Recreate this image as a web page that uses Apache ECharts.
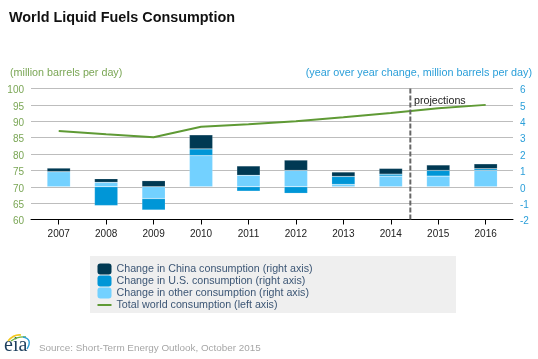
<!DOCTYPE html>
<html><head><meta charset="utf-8">
<style>html,body{margin:0;padding:0;background:#fff}#c{width:538px;height:359px}</style>
<script src="https://cdn.jsdelivr.net/npm/echarts@6/dist/echarts.min.js"></script></head>
<body><div id="c"></div>
<script>
const years=['2007','2008','2009','2010','2011','2012','2013','2014','2015','2016'];
const china=[0.22,0.22,0.37,0.86,0.57,0.63,0.27,0.35,0.33,0.30];
const us=[0,-1.15,-0.70,0.41,-0.27,-0.40,0.49,0.12,0.35,0.10];
const other=[0.92,0.27,-0.72,1.90,0.70,1.00,0.14,0.65,0.65,1.00];
const total=[87.0,86.0,85.1,88.3,89.1,90.0,91.2,92.5,94.0,95.0];
const projectionStart=0.787;
const ff='"Liberation Sans",Arial,sans-serif';
const green='#7aa655', blue='#2b9fd9', ink='#3c5675';
const bar=(name,data,color)=>({name,type:'bar',stack:'chg',xAxisIndex:1,yAxisIndex:3,barWidth:23.3,data,
  itemStyle:{color,borderColor:'rgba(255,255,255,0.3)',borderWidth:0.5}});
const hiddenY=(min,max,gridIndex)=>({type:'value',min,max,gridIndex,show:false,splitLine:{show:false}});
const curve=(x1,y1,cx,cy,x2,y2,stroke,lineWidth)=>({type:'bezierCurve',silent:true,
  shape:{x1,y1,cpx1:cx,cpy1:cy,x2,y2},style:{stroke,lineWidth,fill:null}});
const chart=echarts.init(document.getElementById('c'),null,{renderer:'canvas'});
chart.setOption({
  animation:false,backgroundColor:'#fff',
  grid:[
    {left:31,right:25,top:88.5,height:131},
    {left:35,width:474.4,top:88.5,height:131}
  ],
  xAxis:[
    {type:'value',gridIndex:0,min:0,max:1,splitLine:{show:false},axisTick:{show:false},axisLabel:{show:false},
     axisLine:{show:true,onZero:false,lineStyle:{color:'#000',width:1}}},
    {type:'category',gridIndex:1,data:years,boundaryGap:true,axisLine:{show:false,onZero:false},
     axisTick:{show:true,alignWithLabel:true,length:5,lineStyle:{color:'#000'}},
     axisLabel:{color:'#222',fontSize:10,fontFamily:ff,margin:10,interval:0}}
  ],
  yAxis:[
    {type:'value',gridIndex:0,min:60,max:100,interval:5,position:'left',axisLine:{show:false},axisTick:{show:false},
     splitLine:{show:true,lineStyle:{color:'#bdbdbd',width:1}},
     axisLabel:{color:green,fontSize:10,fontFamily:ff,margin:7,verticalAlign:'top',lineHeight:4}},
    {type:'value',gridIndex:0,min:-2,max:6,interval:1,position:'right',axisLine:{show:false},axisTick:{show:false},
     splitLine:{show:false},
     axisLabel:{color:blue,fontSize:10,fontFamily:ff,margin:7,verticalAlign:'top',lineHeight:4}},
    hiddenY(60,100,1),
    hiddenY(-2,6,1)
  ],
  legend:{orient:'vertical',left:96.5,top:263,itemWidth:14,itemHeight:11,itemGap:0,padding:0,selectedMode:false,
    data:['Change in China consumption (right axis)','Change in U.S. consumption (right axis)','Change in other consumption (right axis)',
      {name:'Total world consumption (left axis)',itemStyle:{opacity:0}}],
    textStyle:{color:ink,fontSize:10.7,lineHeight:10,fontFamily:ff,padding:[2,0,0,0]},itemStyle:{borderWidth:0}},
  series:[
    bar('Change in other consumption (right axis)',other,'#73d1ff'),
    bar('Change in U.S. consumption (right axis)',us,'#0096d7'),
    bar('Change in China consumption (right axis)',china,'#003953'),
    {name:'Total world consumption (left axis)',type:'line',xAxisIndex:1,yAxisIndex:2,data:total,symbol:'none',
     lineStyle:{color:'#5f9a35',width:2},itemStyle:{color:'#5f9a35'},z:5},
    {name:'projections',type:'line',xAxisIndex:0,yAxisIndex:0,symbol:'none',
     data:[[projectionStart,60],[projectionStart,100]],
     lineStyle:{color:'#666',width:2,type:[5,2]},z:6}
  ],
  graphic:[
    {type:'rect',z:-1,silent:true,shape:{x:90,y:256,width:366,height:57},style:{fill:'#efefef'}},
    {type:'text',left:9,top:11,style:{text:'World Liquid Fuels Consumption',font:'bold 14.4px '+ff,fill:'#111'}},
    {type:'text',left:10,top:68,style:{text:'(million barrels per day)',font:'10.75px '+ff,fill:green}},
    {type:'text',right:6,top:68,style:{text:'(year over year change, million barrels per day)',font:'10.8px '+ff,fill:blue,textAlign:'right'}},
    {type:'text',left:414,top:96,z:10,style:{text:'projections',font:'10.7px '+ff,fill:'#222'}},
    {type:'text',left:39,top:343,style:{text:'Source: Short-Term Energy Outlook, October 2015',font:'9.9px '+ff,fill:'#a6a6a6'}},
    {type:'text',left:4,top:336,style:{text:'eia',font:'20px "Liberation Serif",serif',fill:'#1d3f5e'}},
    curve(8,341,14,334,21,335,'#f2c81e',1.6),
    curve(11,341,18,336,26,337,'#6cb33f',1.4),
    curve(23,337,33,339,27,349,'#2b9fd9',1.4)
  ]
});
</script></body></html>
